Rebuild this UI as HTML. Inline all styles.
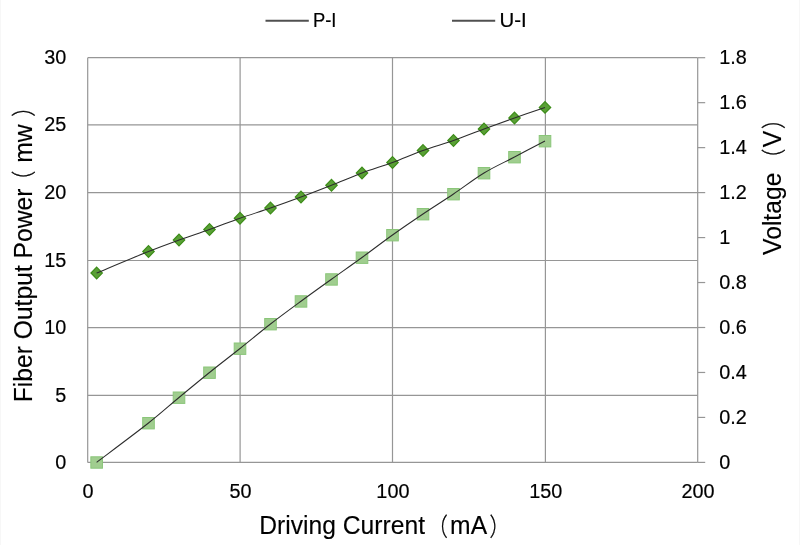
<!DOCTYPE html>
<html lang="en">
<head>
<meta charset="utf-8">
<title>P-I and U-I curves</title>
<style>
html,body{margin:0;padding:0;background:#fff;}
body{width:800px;height:545px;overflow:hidden;}
svg{display:block;filter:blur(0.35px);}
text{font-family:"Liberation Sans","Noto Sans CJK SC",sans-serif;fill:#000;}
.tick{font-size:20.90px;stroke:#000;stroke-width:0.2px;}
.title{font-size:25.50px;stroke:#000;stroke-width:0.12px;}
.paren{font-size:24.80px;font-weight:300;stroke:#000;stroke-width:0.3px;}
.grid{stroke:#969696;stroke-width:1.2;fill:none;}
.curve{stroke:#2c2c2c;stroke-width:1.05;fill:none;}
.leg{stroke:#505050;stroke-width:1.9;fill:none;}
.legt{font-size:20.6px;stroke:#000;stroke-width:0.2px;}
</style>
</head>
<body>
<svg width="800" height="545" viewBox="0 0 800 545">
<rect x="0" y="0" width="800" height="545" fill="#ffffff"/>
<rect x="0" y="0" width="1" height="545" fill="#f7f7f7"/>
<rect x="799" y="0" width="1" height="545" fill="#f7f7f7"/>

<g class="grid">
<line x1="87.70" y1="462.40" x2="697.70" y2="462.40"/>
<line x1="87.70" y1="395.40" x2="697.70" y2="395.40"/>
<line x1="87.70" y1="327.60" x2="697.70" y2="327.60"/>
<line x1="87.70" y1="260.50" x2="697.70" y2="260.50"/>
<line x1="87.70" y1="192.60" x2="697.70" y2="192.60"/>
<line x1="87.70" y1="124.80" x2="697.70" y2="124.80"/>
<line x1="87.70" y1="57.70" x2="697.70" y2="57.70"/>
<line x1="87.70" y1="57.70" x2="87.70" y2="462.40"/>
<line x1="240.10" y1="57.70" x2="240.10" y2="462.40"/>
<line x1="392.50" y1="57.70" x2="392.50" y2="462.40"/>
<line x1="545.40" y1="57.70" x2="545.40" y2="462.40"/>
<line x1="697.70" y1="57.70" x2="697.70" y2="462.40"/>
<line x1="697.70" y1="462.40" x2="705.20" y2="462.40"/>
<line x1="697.70" y1="417.43" x2="705.20" y2="417.43"/>
<line x1="697.70" y1="372.47" x2="705.20" y2="372.47"/>
<line x1="697.70" y1="327.50" x2="705.20" y2="327.50"/>
<line x1="697.70" y1="282.53" x2="705.20" y2="282.53"/>
<line x1="697.70" y1="237.57" x2="705.20" y2="237.57"/>
<line x1="697.70" y1="192.60" x2="705.20" y2="192.60"/>
<line x1="697.70" y1="147.63" x2="705.20" y2="147.63"/>
<line x1="697.70" y1="102.67" x2="705.20" y2="102.67"/>
<line x1="697.70" y1="57.70" x2="705.20" y2="57.70"/>
</g>
<g fill="#a0cd8f" stroke="#8ac679" stroke-width="1">
<rect x="90.85" y="456.80" width="11.6" height="11.4"/>
<rect x="142.70" y="417.50" width="11.6" height="11.4"/>
<rect x="173.20" y="392.00" width="11.6" height="11.4"/>
<rect x="203.70" y="367.00" width="11.6" height="11.4"/>
<rect x="234.20" y="343.00" width="11.6" height="11.4"/>
<rect x="264.70" y="318.50" width="11.6" height="11.4"/>
<rect x="295.20" y="295.75" width="11.6" height="11.4"/>
<rect x="325.70" y="273.75" width="11.6" height="11.4"/>
<rect x="356.20" y="252.00" width="11.6" height="11.4"/>
<rect x="386.70" y="229.50" width="11.6" height="11.4"/>
<rect x="417.20" y="208.50" width="11.6" height="11.4"/>
<rect x="447.70" y="188.50" width="11.6" height="11.4"/>
<rect x="478.20" y="167.50" width="11.6" height="11.4"/>
<rect x="508.70" y="151.50" width="11.6" height="11.4"/>
<rect x="539.20" y="135.50" width="11.6" height="11.4"/>
</g>
<g fill="#5aa036" stroke="#3c8c18" stroke-width="1.2" stroke-linejoin="miter">
<path d="M96.65 267.20L102.35 273.00L96.65 278.80L90.95 273.00Z"/>
<path d="M148.50 245.70L154.20 251.50L148.50 257.30L142.80 251.50Z"/>
<path d="M179.00 234.20L184.70 240.00L179.00 245.80L173.30 240.00Z"/>
<path d="M209.50 223.70L215.20 229.50L209.50 235.30L203.80 229.50Z"/>
<path d="M240.00 212.45L245.70 218.25L240.00 224.05L234.30 218.25Z"/>
<path d="M270.50 202.20L276.20 208.00L270.50 213.80L264.80 208.00Z"/>
<path d="M301.00 191.20L306.70 197.00L301.00 202.80L295.30 197.00Z"/>
<path d="M331.50 179.45L337.20 185.25L331.50 191.05L325.80 185.25Z"/>
<path d="M362.00 167.20L367.70 173.00L362.00 178.80L356.30 173.00Z"/>
<path d="M392.50 156.70L398.20 162.50L392.50 168.30L386.80 162.50Z"/>
<path d="M423.00 144.70L428.70 150.50L423.00 156.30L417.30 150.50Z"/>
<path d="M453.50 134.70L459.20 140.50L453.50 146.30L447.80 140.50Z"/>
<path d="M484.00 123.20L489.70 129.00L484.00 134.80L478.30 129.00Z"/>
<path d="M514.50 112.20L520.20 118.00L514.50 123.80L508.80 118.00Z"/>
<path d="M545.00 101.60L550.70 107.40L545.00 113.20L539.30 107.40Z"/>
</g>
<path class="curve" d="M96.65 462.30C105.29 455.75 134.78 433.80 148.50 423.00C162.22 412.20 168.83 405.92 179.00 397.50C189.17 389.08 199.33 380.67 209.50 372.50C219.67 364.33 229.83 356.58 240.00 348.50C250.17 340.42 260.33 331.88 270.50 324.00C280.67 316.12 290.83 308.71 301.00 301.25C311.17 293.79 321.33 286.54 331.50 279.25C341.67 271.96 351.83 264.88 362.00 257.50C372.17 250.12 382.33 242.25 392.50 235.00C402.67 227.75 412.83 220.83 423.00 214.00C433.17 207.17 443.33 200.83 453.50 194.00C463.67 187.17 473.83 179.17 484.00 173.00C494.17 166.83 504.33 162.33 514.50 157.00C524.67 151.67 539.92 143.67 545.00 141.00"/>
<path class="curve" d="M96.65 273.00C105.29 269.42 134.78 257.00 148.50 251.50C162.22 246.00 168.83 243.67 179.00 240.00C189.17 236.33 199.33 233.12 209.50 229.50C219.67 225.88 229.83 221.83 240.00 218.25C250.17 214.67 260.33 211.54 270.50 208.00C280.67 204.46 290.83 200.79 301.00 197.00C311.17 193.21 321.33 189.25 331.50 185.25C341.67 181.25 351.83 176.79 362.00 173.00C372.17 169.21 382.33 166.25 392.50 162.50C402.67 158.75 412.83 154.17 423.00 150.50C433.17 146.83 443.33 144.08 453.50 140.50C463.67 136.92 473.83 132.75 484.00 129.00C494.17 125.25 504.33 121.60 514.50 118.00C524.67 114.40 539.92 109.17 545.00 107.40"/>
<line class="leg" x1="265.5" y1="20.8" x2="308.8" y2="20.8"/>
<text class="legt" transform="translate(313.00 27.30) scale(0.8900 1.0000)">P-I</text>
<line class="leg" x1="452" y1="20.8" x2="495.2" y2="20.8"/>
<text class="legt" transform="translate(499.50 27.30) scale(0.9900 1.0000)">U-I</text>
<text class="tick" transform="translate(66.40 468.90) scale(0.9500 1.0000)" text-anchor="end">0</text>
<text class="tick" transform="translate(66.40 401.90) scale(0.9500 1.0000)" text-anchor="end">5</text>
<text class="tick" transform="translate(66.40 334.10) scale(0.9500 1.0000)" text-anchor="end">10</text>
<text class="tick" transform="translate(66.40 267.00) scale(0.9500 1.0000)" text-anchor="end">15</text>
<text class="tick" transform="translate(66.40 199.10) scale(0.9500 1.0000)" text-anchor="end">20</text>
<text class="tick" transform="translate(66.40 131.30) scale(0.9500 1.0000)" text-anchor="end">25</text>
<text class="tick" transform="translate(66.40 64.20) scale(0.9500 1.0000)" text-anchor="end">30</text>
<text class="tick" transform="translate(88.10 498.40) scale(0.9500 1.0000)" text-anchor="middle">0</text>
<text class="tick" transform="translate(240.50 498.40) scale(0.9500 1.0000)" text-anchor="middle">50</text>
<text class="tick" transform="translate(392.90 498.40) scale(0.9500 1.0000)" text-anchor="middle">100</text>
<text class="tick" transform="translate(545.80 498.40) scale(0.9500 1.0000)" text-anchor="middle">150</text>
<text class="tick" transform="translate(698.10 498.40) scale(0.9500 1.0000)" text-anchor="middle">200</text>
<text class="tick" transform="translate(719.30 468.90) scale(0.9500 1.0000)">0</text>
<text class="tick" transform="translate(719.30 423.93) scale(0.9500 1.0000)">0.2</text>
<text class="tick" transform="translate(719.30 378.97) scale(0.9500 1.0000)">0.4</text>
<text class="tick" transform="translate(719.30 334.00) scale(0.9500 1.0000)">0.6</text>
<text class="tick" transform="translate(719.30 289.03) scale(0.9500 1.0000)">0.8</text>
<text class="tick" transform="translate(719.30 244.07) scale(0.9500 1.0000)">1</text>
<text class="tick" transform="translate(719.30 199.10) scale(0.9500 1.0000)">1.2</text>
<text class="tick" transform="translate(719.30 154.13) scale(0.9500 1.0000)">1.4</text>
<text class="tick" transform="translate(719.30 109.17) scale(0.9500 1.0000)">1.6</text>
<text class="tick" transform="translate(719.30 64.20) scale(0.9500 1.0000)">1.8</text>
<text class="title" transform="translate(259.20 533.90) scale(0.9670 1.0000)">Driving Current</text>
<text class="paren" transform="translate(427.60 536.00) scale(0.8200 1.0000)">（</text>
<text class="title" transform="translate(450.10 533.90) scale(0.9670 1.0000)">mA</text>
<text class="paren" transform="translate(489.40 536.00) scale(0.8200 1.0000)">）</text>
<text class="title" transform="translate(32.40 402.30) rotate(-90) scale(0.9670 1.0000)">Fiber Output Power</text>
<text class="paren" transform="translate(33.40 191.00) rotate(-90) scale(0.8200 1.0000)">（</text>
<text class="title" transform="translate(32.40 162.80) rotate(-90) scale(0.9670 1.0000)">mw</text>
<text class="paren" transform="translate(33.40 116.70) rotate(-90) scale(0.8200 1.0000)">）</text>
<text class="title" transform="translate(781.20 254.90) rotate(-90) scale(0.9670 1.0000)">Voltage</text>
<text class="paren" transform="translate(783.40 169.10) rotate(-90) scale(0.8200 1.0000)">（</text>
<text class="title" transform="translate(781.20 147.20) rotate(-90) scale(0.9670 1.0000)">V</text>
<text class="paren" transform="translate(783.40 129.10) rotate(-90) scale(0.8200 1.0000)">）</text>
</svg>
</body>
</html>
